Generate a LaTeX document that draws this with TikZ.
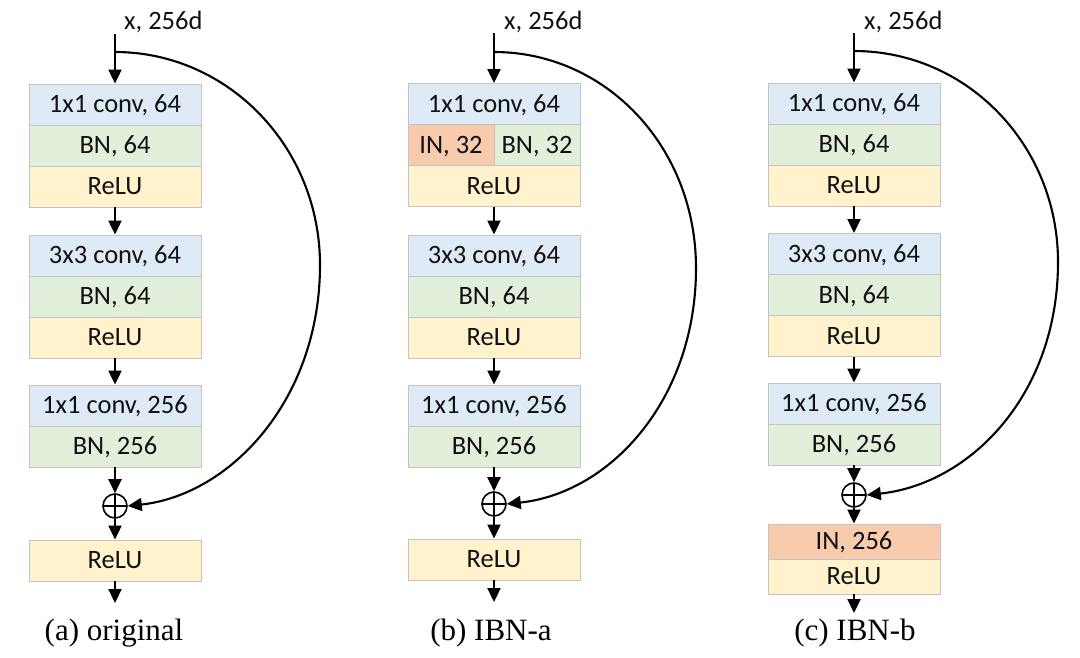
\documentclass[tikz,border=0pt]{standalone}
\usepackage{fontspec}
\setmainfont{Liberation Serif}
\newfontfamily\cellfont{Carlito}
\usetikzlibrary{arrows.meta}
\definecolor{convc}{HTML}{DEEBF7}
\definecolor{bnc}{HTML}{E2EFDA}
\definecolor{reluc}{HTML}{FFF2CC}
\definecolor{inc}{HTML}{F8CBAD}
\definecolor{cellborder}{HTML}{C4C4C4}
\definecolor{txt}{HTML}{111111}
\begin{document}
\begin{tikzpicture}[x=1pt,y=-1pt,
  cell/.style={draw=cellborder, line width=0.9pt, minimum width=172pt, minimum height=41pt,
    inner sep=0pt, font=\cellfont\fontsize{26.5}{30}\selectfont, text height=16.8pt, text depth=0pt, text=txt},
  half/.style={cell, minimum width=86pt},
  short/.style={cell, minimum height=35pt},
  arr/.style={line width=2.2pt, -{Triangle[width=13pt,length=14pt]}},
  curv/.style={line width=2.1pt, -{Triangle[width=13pt,length=14pt]}},
  plus/.style={circle, draw, line width=1.6pt, minimum size=24pt, inner sep=0pt,
    path picture={\draw[line width=1.6pt] (path picture bounding box.north) -- (path picture bounding box.south)
      (path picture bounding box.west) -- (path picture bounding box.east);}},
  inlab/.style={anchor=base west, inner sep=0pt, font=\cellfont\fontsize{26.5}{30}\selectfont, text=txt},
  captxt/.style={font=\fontsize{31}{36}\selectfont, inner sep=0pt}
]
\useasboundingbox (0,0) rectangle (1080,657);

% ---------------- (a) original ----------------
\node[inlab] (xa) at (124,29) {x, 256d};
\coordinate (ta) at (115,34);
\coordinate (sa) at (115,52);
\node[cell, fill=convc] (a1) at (115,104.5) {1x1 conv, 64};
\node[cell, fill=bnc]   (a2) at (115,145.5) {BN, 64};
\node[cell, fill=reluc] (a3) at (115,186.5) {ReLU};
\node[cell, fill=convc] (a4) at (115,255.5) {3x3 conv, 64};
\node[cell, fill=bnc]   (a5) at (115,296.5) {BN, 64};
\node[cell, fill=reluc] (a6) at (115,337.5) {ReLU};
\node[cell, fill=convc] (a7) at (115,405.5) {1x1 conv, 256};
\node[cell, fill=bnc]   (a8) at (115,446.5) {BN, 256};
\node[plus] (pa) at (115,506) {};
\node[cell, fill=reluc] (a9) at (115,560.5) {ReLU};
\coordinate (ea) at (115,603);
\node[captxt] (capa) at (114,633) {(a) original};
\draw[arr] (ta) -- (a1.north);
\draw[arr] (a3.south) -- (a4.north);
\draw[arr] (a6.south) -- (a7.north);
\draw[arr] (a8.south) -- (pa.north);
\draw[arr] (pa.south) -- (a9.north);
\draw[arr] (a9.south) -- (ea);
\draw[curv] (sa) .. controls (228,52) and (320,147) .. (320,265)
  .. controls (320,400) and (230,495) .. (pa.east);

% ---------------- (b) IBN-a ----------------
\node[inlab] (xb) at (504,29) {x, 256d};
\coordinate (tb) at (494,33);
\coordinate (sb) at (494,52);
\node[cell, fill=convc] (b1) at (494,104) {1x1 conv, 64};
\node[half, fill=inc]   (b2l) at (451,145) {IN, 32};
\node[half, fill=bnc]   (b2r) at (537,145) {BN, 32};
\node[cell, fill=reluc] (b3) at (494,186) {ReLU};
\node[cell, fill=convc] (b4) at (494,255.5) {3x3 conv, 64};
\node[cell, fill=bnc]   (b5) at (494,296.5) {BN, 64};
\node[cell, fill=reluc] (b6) at (494,337.5) {ReLU};
\node[cell, fill=convc] (b7) at (494,405.5) {1x1 conv, 256};
\node[cell, fill=bnc]   (b8) at (494,446.5) {BN, 256};
\node[plus] (pb) at (494,504) {};
\node[cell, fill=reluc] (b9) at (494,559.5) {ReLU};
\coordinate (eb) at (494,602);
\node[captxt] (capb) at (491,633) {(b) IBN-a};
\draw[arr] (tb) -- (b1.north);
\draw[arr] (b3.south) -- (b4.north);
\draw[arr] (b6.south) -- (b7.north);
\draw[arr] (b8.south) -- (pb.north);
\draw[arr] (pb.south) -- (b9.north);
\draw[arr] (b9.south) -- (eb);
\draw[curv] (sb) .. controls (606,52) and (696,147) .. (696,268)
  .. controls (696,400) and (610,493) .. (pb.east);

% ---------------- (c) IBN-b ----------------
\node[inlab] (xc) at (864,29) {x, 256d};
\coordinate (tc) at (854,33);
\coordinate (sc) at (854,51);
\node[cell, fill=convc] (c1) at (854,103.5) {1x1 conv, 64};
\node[cell, fill=bnc]   (c2) at (854,144.5) {BN, 64};
\node[cell, fill=reluc] (c3) at (854,185.5) {ReLU};
\node[cell, fill=convc] (c4) at (854,254) {3x3 conv, 64};
\node[cell, fill=bnc]   (c5) at (854,295) {BN, 64};
\node[cell, fill=reluc] (c6) at (854,336) {ReLU};
\node[cell, fill=convc] (c7) at (854,403.5) {1x1 conv, 256};
\node[cell, fill=bnc]   (c8) at (854,444.5) {BN, 256};
\node[plus] (pc) at (854,495) {};
\node[short, fill=inc]   (c9) at (854,541.5) {IN, 256};
\node[short, fill=reluc] (c10) at (854,576.5) {ReLU};
\coordinate (ec) at (854,613);
\node[captxt] (capc) at (855,633) {(c) IBN-b};
\draw[arr] (tc) -- (c1.north);
\draw[arr] (c3.south) -- (c4.north);
\draw[arr] (c6.south) -- (c7.north);
\draw[arr] (c8.south) -- (pc.north);
\draw[arr] (pc.south) -- (c9.north);
\draw[arr] (c10.south) -- (ec);
\draw[curv] (sc) .. controls (967,51) and (1058,145) .. (1058,262)
  .. controls (1058,395) and (970,484) .. (pc.east);
\end{tikzpicture}
\end{document}
